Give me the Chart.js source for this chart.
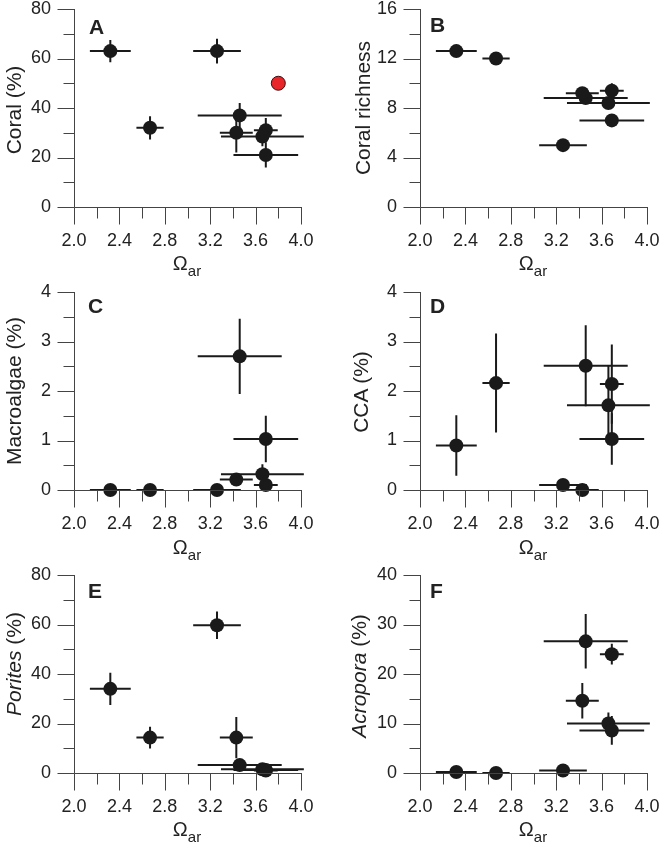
<!DOCTYPE html>
<html><head><meta charset="utf-8">
<script src="https://cdn.jsdelivr.net/npm/chart.js@4.4.1/dist/chart.umd.min.js"></script>
<style>
body{margin:0;background:#fff;width:660px;height:843px;position:relative;overflow:hidden;font-family:"Liberation Sans",Arial,sans-serif;color:#222}
.pane{position:absolute;width:330px;height:277px}
.pane canvas{position:absolute;left:0;top:0}
.xt{position:absolute;font-size:20px;line-height:20px;white-space:nowrap;transform:translateX(-50%)}
.xt sub{font-size:15px;vertical-align:baseline;position:relative;top:6px}
.yt{position:absolute;font-size:21px;line-height:21px;white-space:nowrap;transform:translate(-50%,-50%) rotate(-90deg)}
.pl{position:absolute;font-size:21px;font-weight:bold;line-height:21px}
</style>
</head><body>
<div class="pane" style="left:0;top:0"><canvas id="cA" width="330" height="277"></canvas></div>
<div class="pane" style="left:330px;top:0"><canvas id="cB" width="330" height="277"></canvas></div>
<div class="pane" style="left:0;top:283px"><canvas id="cC" width="330" height="277"></canvas></div>
<div class="pane" style="left:330px;top:283px"><canvas id="cD" width="330" height="277"></canvas></div>
<div class="pane" style="left:0;top:566px"><canvas id="cE" width="330" height="277"></canvas></div>
<div class="pane" style="left:330px;top:566px"><canvas id="cF" width="330" height="277"></canvas></div>

<div class="pl" style="left:89px;top:16px">A</div>
<div class="pl" style="left:430px;top:14px">B</div>
<div class="pl" style="left:88px;top:295px">C</div>
<div class="pl" style="left:430px;top:295px">D</div>
<div class="pl" style="left:88px;top:580px">E</div>
<div class="pl" style="left:430px;top:580px">F</div>

<div class="yt" style="left:13px;top:110px">Coral (%)</div>
<div class="yt" style="left:362px;top:108px">Coral richness</div>
<div class="yt" style="left:13px;top:391px">Macroalgae (%)</div>
<div class="yt" style="left:360px;top:392px">CCA (%)</div>
<div class="yt" style="left:13px;top:664px"><i>Porites</i> (%)</div>
<div class="yt" style="left:358px;top:676px"><i>Acropora</i> (%)</div>

<div class="xt" style="left:187px;top:253px">Ω<sub>ar</sub></div>
<div class="xt" style="left:533px;top:253px">Ω<sub>ar</sub></div>
<div class="xt" style="left:187px;top:537px">Ω<sub>ar</sub></div>
<div class="xt" style="left:533px;top:537px">Ω<sub>ar</sub></div>
<div class="xt" style="left:187px;top:819px">Ω<sub>ar</sub></div>
<div class="xt" style="left:533px;top:819px">Ω<sub>ar</sub></div>

<script>
// ---- data ----
const omegaAr    = [2.32, 2.67, 3.26, 3.46, 3.43, 3.69, 3.66, 3.69];
const omegaArErr = [0.18, 0.12, 0.21, 0.37, 0.145, 0.105, 0.365, 0.285];
const xTicks = [2.0, 2.4, 2.8, 3.2, 3.6, 4.0];
const xMinorTicks = [2.2, 2.6, 3.0, 3.4, 3.8];

const coral    = [63, 32, 63, 37, 30, 31, 28.5, 21];
const coralErr = [4.5, 4.7, 5, 5, 8, 5, 4, 5];
const coralRedX = [3.8];
const coralRedY = [50];

const coralRichness    = [12.6, 12.0, 5.0, 8.8, 9.2, 9.4, 8.4, 7.0];
const coralRichnessErr = [0.3, 0.2, 0.4, 0.3, 0.3, 0.6, 0.3, 0.5];

const macroalgae    = [0, 0, 0, 2.7, 0.21, 0.1, 0.32, 1.03];
const macroalgaeErr = [0, 0, 0, 0.76, 0.13, 0.08, 0.2, 0.47];

const cca    = [0.9, 2.16, 0.1, 2.51, 0, 2.14, 1.71, 1.03];
const ccaErr = [0.61, 1.0, 0, 0.82, 0, 0.8, 0.8, 0.52];

const porites    = [34, 14.3, 59.7, 3.2, 14.3, 1.0, 1.5, 1.2];
const poritesErr = [6.5, 4.4, 5.6, 1.5, 8.3, 0.8, 0.8, 0.8];

const acropora    = [0.2, 0, 0.5, 26.6, 14.6, 24, 10, 8.6];
const acroporaErr = [0, 0, 0, 5.5, 3.6, 2.1, 2.2, 2.9];

const FONT = '"Liberation Sans", Arial, sans-serif';
const AXIS = '#444';
const MAJOR = 17, MINOR = 11;

const errPlugin = {
  id: 'errbars',
  beforeDatasetsDraw(chart) {
    const o = chart.options.plugins.errbars;
    const ctx = chart.ctx;
    const x = chart.scales.x, y = chart.scales.y;
    ctx.save();
    ctx.strokeStyle = '#1a1a1a'; ctx.lineWidth = 2;
    o.xs.forEach((xv, i) => {
      const yv = o.ys[i];
      const px = x.getPixelForValue(xv), py = y.getPixelForValue(yv);
      ctx.beginPath();
      ctx.moveTo(x.getPixelForValue(xv - o.xErr[i]), py);
      ctx.lineTo(x.getPixelForValue(xv + o.xErr[i]), py);
      if (o.yErr[i] > 0) {
        ctx.moveTo(px, y.getPixelForValue(yv - o.yErr[i]));
        ctx.lineTo(px, y.getPixelForValue(yv + o.yErr[i]));
      }
      ctx.stroke();
    });
    ctx.restore();
  },
  afterDraw(chart) {
    const o = chart.options.plugins.errbars;
    const {ctx, chartArea: ca} = chart;
    const x = chart.scales.x, y = chart.scales.y;
    ctx.save();
    ctx.strokeStyle = AXIS; ctx.lineWidth = 1;
    ctx.beginPath();
    const b = Math.round(ca.bottom) + 0.5, l = Math.round(ca.left) + 0.5;
    xTicks.forEach(v => { const p = Math.round(x.getPixelForValue(v)) + 0.5; ctx.moveTo(p, b); ctx.lineTo(p, b + MAJOR); });
    xMinorTicks.forEach(v => { const p = Math.round(x.getPixelForValue(v)) + 0.5; ctx.moveTo(p, b); ctx.lineTo(p, b + MINOR); });
    y.ticks.forEach(t => { const p = Math.round(y.getPixelForValue(t.value)) + 0.5; ctx.moveTo(l - MAJOR, p); ctx.lineTo(l, p); });
    o.yMinor.forEach(v => { const p = Math.round(y.getPixelForValue(v)) + 0.5; ctx.moveTo(l - MINOR, p); ctx.lineTo(l, p); });
    ctx.moveTo(l, Math.round(ca.top)); ctx.lineTo(l, b);
    ctx.moveTo(l, b); ctx.lineTo(Math.round(ca.right) + 1, b);
    ctx.stroke();
    ctx.restore();
  }
};

function panel(id, side, ys, yErr, yMax, yStep, yMinor, extra) {
  const left = side === 'L';
  const datasets = [{
    data: omegaAr.map((v, i) => ({x: v, y: ys[i]})),
    pointRadius: 7, pointHoverRadius: 7, backgroundColor: '#1a1a1a', borderWidth: 0, clip: false
  }];
  if (extra) datasets.push(extra);
  new Chart(document.getElementById(id), {
    type: 'scatter',
    data: {datasets},
    plugins: [errPlugin],
    options: {
      responsive: false, animation: false,
      layout: {padding: {top: 9, right: left ? 29 : 13, left: 0, bottom: 0}},
      plugins: {
        legend: {display: false}, tooltip: {enabled: false},
        errbars: {xs: omegaAr, ys, xErr: omegaArErr, yErr, yMinor}
      },
      scales: {
        x: {
          type: 'linear', min: 2, max: 4,
          afterFit(s) { s.height = 70; s.paddingLeft = 0; s.paddingRight = 0; },
          afterBuildTicks(s) { s.ticks = xTicks.map(v => ({value: v})); },
          ticks: {callback: v => v.toFixed(1), font: {size: 18, family: FONT}, color: '#222', padding: 6 + MAJOR, maxRotation: 0, autoSkip: false},
          grid: {display: false, drawTicks: false, tickLength: 0},
          border: {display: false}
        },
        y: {
          type: 'linear', min: 0, max: yMax,
          afterFit(s) { s.width = left ? 74 : 90; s.paddingTop = 0; s.paddingBottom = 0; },
          ticks: {stepSize: yStep, font: {size: 18, family: FONT}, color: '#222', padding: 6 + MAJOR},
          grid: {display: false, drawTicks: false, tickLength: 0},
          border: {display: false}
        }
      }
    }
  });
}

panel('cA', 'L', coral, coralErr, 80, 20, [10, 30, 50, 70], {
  data: coralRedX.map((v, i) => ({x: v, y: coralRedY[i]})),
  pointRadius: 7, pointHoverRadius: 7, backgroundColor: '#e8262a', borderColor: '#3a1010', borderWidth: 1, clip: false
});
panel('cB', 'R', coralRichness, coralRichnessErr, 16, 4, [2, 6, 10, 14]);
panel('cC', 'L', macroalgae, macroalgaeErr, 4, 1, [0.5, 1.5, 2.5, 3.5]);
panel('cD', 'R', cca, ccaErr, 4, 1, [0.5, 1.5, 2.5, 3.5]);
panel('cE', 'L', porites, poritesErr, 80, 20, [10, 30, 50, 70]);
panel('cF', 'R', acropora, acroporaErr, 40, 10, [5, 15, 25, 35]);
</script>
</body></html>
